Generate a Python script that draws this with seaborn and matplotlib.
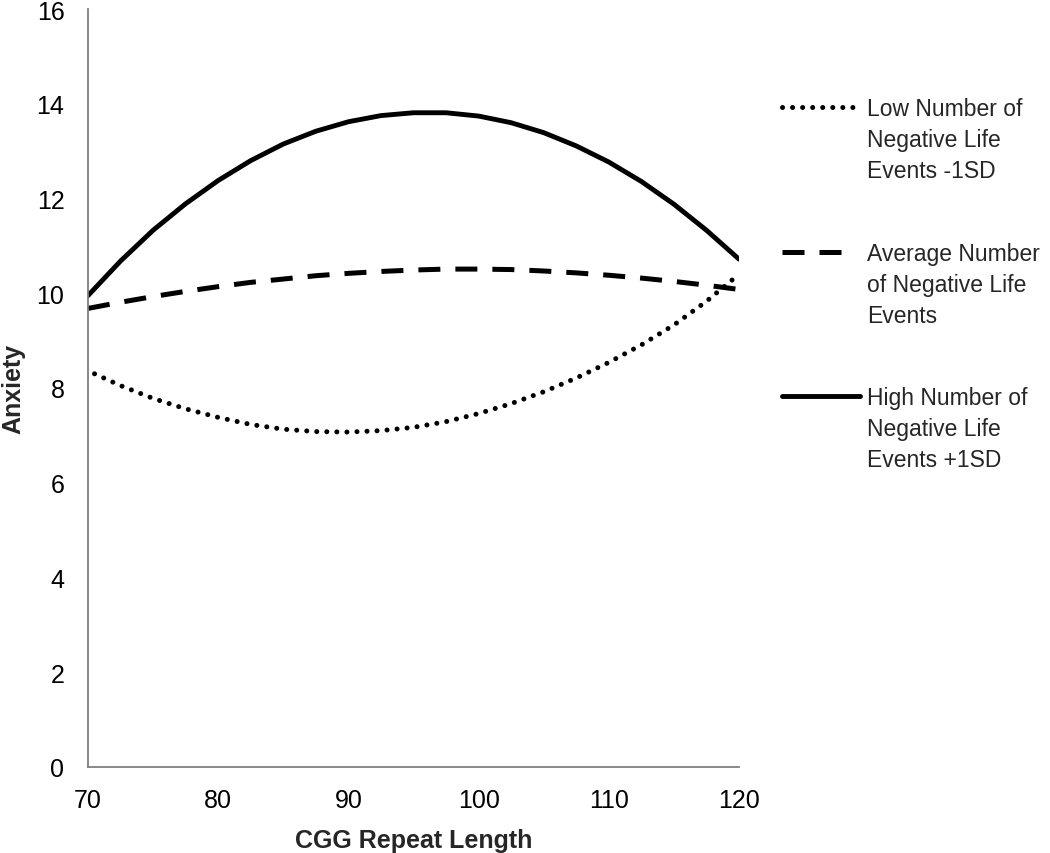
import numpy as np
import pandas as pd
import matplotlib
matplotlib.use("Agg")
import matplotlib.pyplot as plt
from matplotlib.lines import Line2D
import seaborn as sns

# values
cgg = [70, 72.5, 75, 77.5, 80, 82.5, 85, 87.5, 90, 92.5, 95,
       97.5, 100, 102.5, 105, 107.5, 110, 112.5, 115, 117.5, 120]
cgg_low = [70.5] + cgg[1:]
low_events = [8.30, 8.05, 7.78, 7.56, 7.38, 7.23, 7.13, 7.08, 7.07, 7.10, 7.17,
              7.29, 7.46, 7.67, 7.92, 8.21, 8.54, 8.91, 9.33, 9.83, 10.40]
avg_events = [9.68, 9.81, 9.93, 10.04, 10.14, 10.23, 10.30, 10.37, 10.42, 10.46, 10.49,
              10.51, 10.51, 10.50, 10.47, 10.43, 10.38, 10.32, 10.25, 10.17, 10.08]
high_events = [9.95, 10.68, 11.33, 11.89, 12.38, 12.80, 13.15, 13.42, 13.62, 13.75, 13.81,
               13.81, 13.74, 13.60, 13.39, 13.11, 12.77, 12.36, 11.88, 11.33, 10.72]

labels = ["Low Number of\nNegative Life\nEvents -1SD",
          "Average Number\nof Negative Life\nEvents",
          "High Number of\nNegative Life\nEvents +1SD"]

sns.set_style("white")
plt.rcParams['font.family'] = ['Liberation Sans', 'DejaVu Sans']

W, H = 1050, 854
fig = plt.figure(figsize=(10.5, 8.54), dpi=100)
ax = fig.add_axes([88 / W, 1 - 768 / H, (739 - 88) / W, (768 - 10) / H])

dot_style = dict(linestyle=(0, (0.01, 2.0)), dash_capstyle="round", lw=3.6)
dash_style = dict(linestyle=(0, (4.4, 3.0)), lw=3.6)
solid_style = dict(linestyle="-", lw=3.5)

sns.lineplot(x=cgg_low, y=low_events, ax=ax, color="black", **dot_style)
sns.lineplot(x=cgg, y=avg_events, ax=ax, color="black", **dash_style)
sns.lineplot(x=cgg, y=high_events, ax=ax, color="black", **solid_style)

ax.set_xlim(70, 120)
ax.set_ylim(0, 16)
ax.set_xticks(range(70, 121, 10))
ax.set_yticks(range(0, 17, 2))
for side in ["top", "right"]:
    ax.spines[side].set_visible(False)
for side in ["left", "bottom"]:
    ax.spines[side].set_color("#7f7f7f")
    ax.spines[side].set_linewidth(1.3)
ax.tick_params(axis="both", direction="out", length=6, width=1.3, color="#7f7f7f",
               labelsize=18, labelcolor="black")
ax.tick_params(axis="y", pad=11)
ax.tick_params(axis="x", pad=9)
ax.set_xlabel("CGG Repeat Length", fontsize=18, fontweight="bold", labelpad=12)
ax.set_ylabel("Anxiety", fontsize=18, fontweight="bold", labelpad=8)

# legend drawn to the right of the plot, handle aligned with first text line
styles = [dot_style, dash_style, solid_style]
handle_ends = [855, 843, 860]
rows = [108, 253, 397]
for lab, st, row, xend in zip(labels, styles, rows, handle_ends):
    y = 1 - row / H
    fig.add_artist(Line2D([782 / W, xend / W], [y, y], color="black",
                          transform=fig.transFigure, **st))
    fig.text(867 / W, 1 - (row - 10) / H, lab, fontsize=16.5, va="top",
             ha="left", linespacing=1.45)

fig.savefig("out.png", dpi=100)
